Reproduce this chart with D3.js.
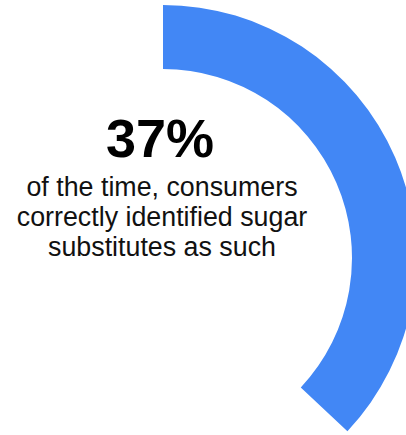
<!DOCTYPE html>
<html>
<head>
<meta charset="utf-8">
<script src="https://cdn.jsdelivr.net/npm/d3@7"></script>
<style>
  html, body { margin: 0; padding: 0; background: #ffffff; }
  svg { display: block; }
</style>
</head>
<body>
<svg id="chart" width="406" height="435"></svg>
<script>
// Share of times consumers correctly identified sugar substitutes
const shareValues = [0.37];
const headlineLabels = ["37%"];
const captionLines = [
  "of the time, consumers",
  "correctly identified sugar",
  "substitutes as such"
];

const width = 406, height = 435;
const cx = 163, cy = 258;
const outerR = 253, innerR = 189;

const svg = d3.select("#chart");

const angle = d3.scaleLinear().domain([0, 1]).range([0, 2 * Math.PI]);

const arc = d3.arc()
  .innerRadius(innerR)
  .outerRadius(outerR)
  .startAngle(0)
  .endAngle(d => angle(d));

const g = svg.append("g").attr("transform", `translate(${cx},${cy})`);

g.selectAll("path.share")
  .data(shareValues)
  .join("path")
  .attr("class", "share")
  .attr("d", arc)
  .attr("fill", "#4287f5");

const textX = 162;

svg.append("text")
  .attr("x", textX - 2)
  .attr("y", 157)
  .attr("text-anchor", "middle")
  .attr("font-family", "Liberation Sans, Arial, Helvetica, sans-serif")
  .attr("font-weight", "bold")
  .attr("font-size", 54)
  .attr("fill", "#000")
  .text(headlineLabels[0]);

svg.selectAll("text.caption")
  .data(captionLines)
  .join("text")
  .attr("class", "caption")
  .attr("x", textX)
  .attr("y", (d, i) => 196 + i * 30)
  .attr("text-anchor", "middle")
  .attr("font-family", "Liberation Sans, Arial, Helvetica, sans-serif")
  .attr("font-size", 26.8)
  .attr("fill", "#111")
  .text(d => d);
</script>
</body>
</html>
